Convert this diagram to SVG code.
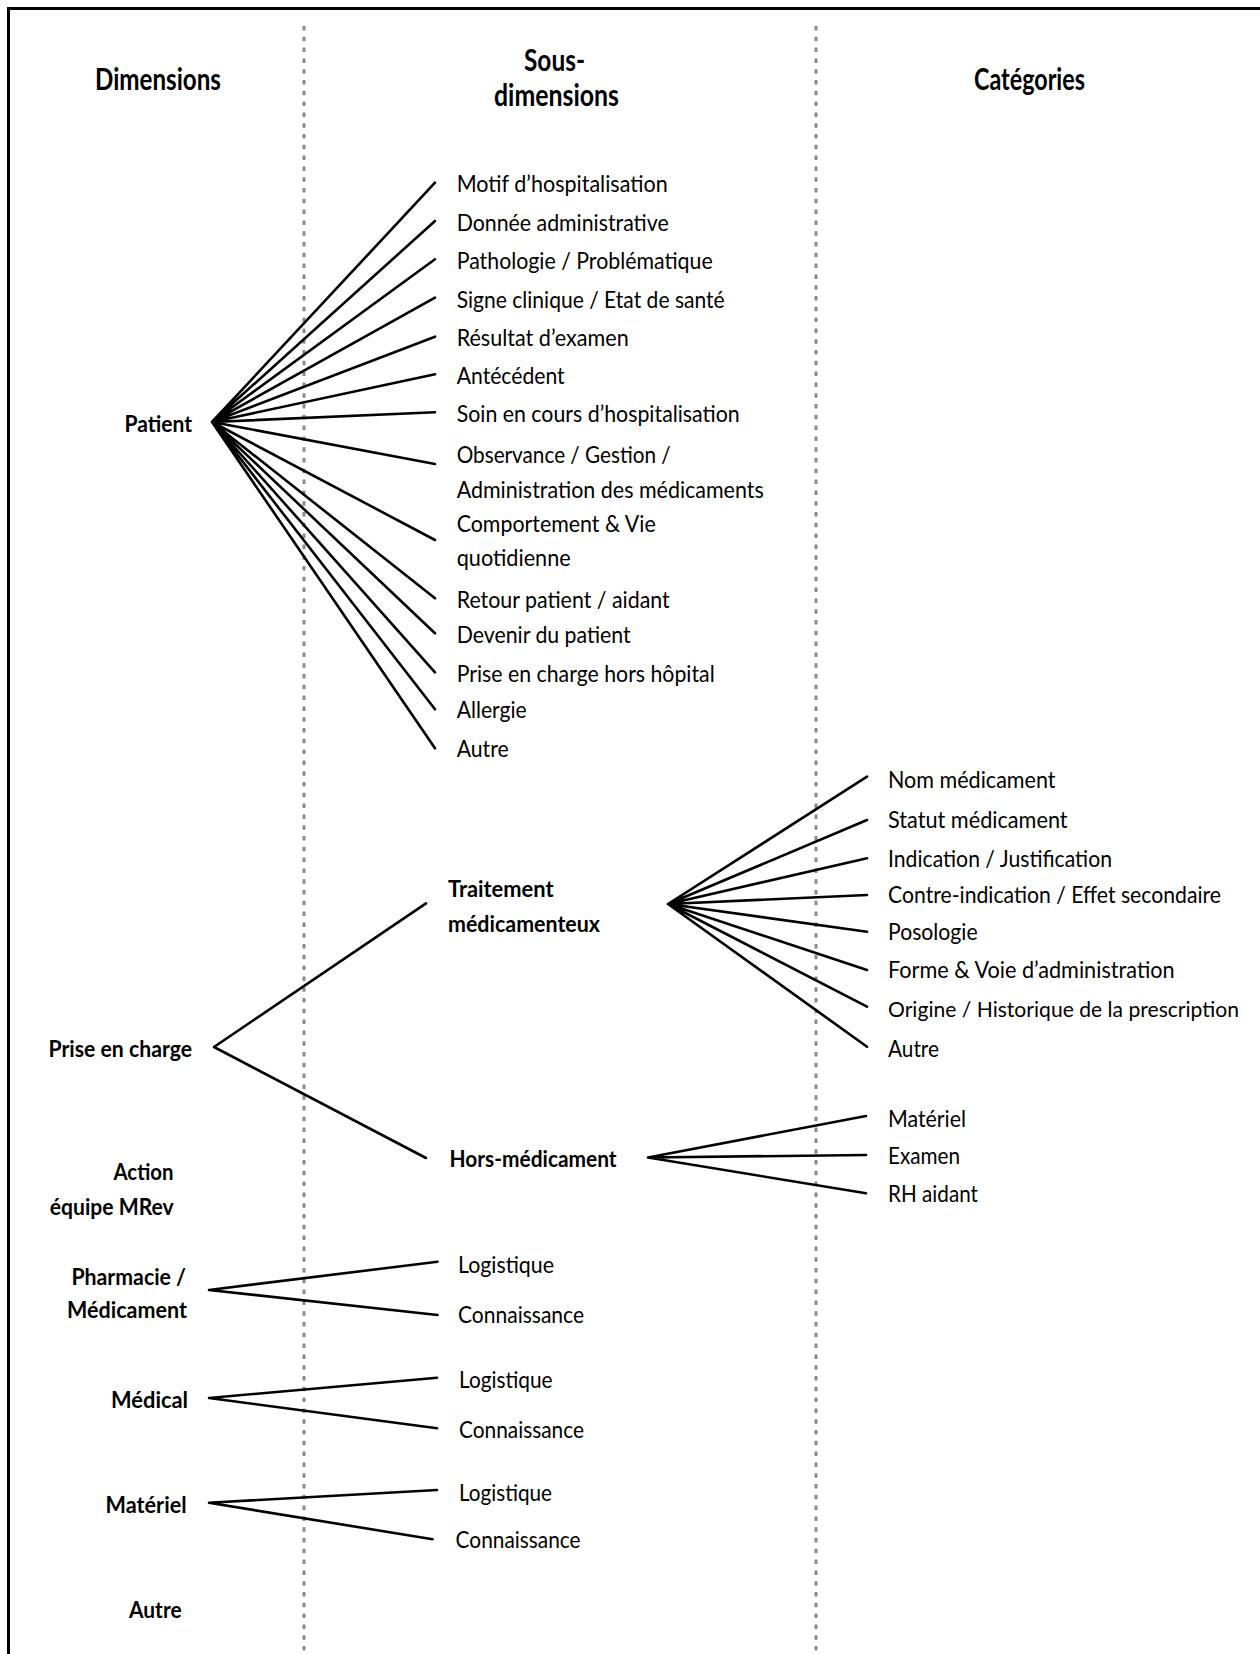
<svg xmlns="http://www.w3.org/2000/svg" width="1260" height="1654" viewBox="0 0 1260 1654">
<style>
text{font-family:Lato,"Liberation Sans",sans-serif;fill:#000}
.h{font-size:30px;font-weight:bold}
.b{font-size:23px;font-weight:bold}
.t{font-size:23px}
.n{font-size:21.5px}
.e{stroke:#000;stroke-width:2.6;fill:none;stroke-linecap:round}
.d{stroke:#8a8a8a;stroke-width:3;stroke-dasharray:4.5 6.3;fill:none}
</style>
<rect x="0" y="0" width="1260" height="1654" fill="#fff"/>
<rect x="8.5" y="8.5" width="1300" height="1700" fill="none" stroke="#000" stroke-width="3"/>
<g id="separators">
<line class="d" x1="304" y1="26" x2="304" y2="1654"/>
<line class="d" x1="816" y1="26" x2="816" y2="1654"/>
</g>
<g id="headers">
<text class="h" x="95" y="90" textLength="126" lengthAdjust="spacingAndGlyphs">Dimensions</text>
<text class="h" x="524" y="71" textLength="61" lengthAdjust="spacingAndGlyphs">Sous-</text>
<text class="h" x="494" y="106" textLength="125" lengthAdjust="spacingAndGlyphs">dimensions</text>
<text class="h" x="974" y="90" textLength="111" lengthAdjust="spacingAndGlyphs">Catégories</text>
</g>
<g id="connectors">
<path class="e" d="M212 422L435 182.7M212 422L435 221M212 422L435 259.3M212 422L435 297.7M212 422L435 336.7M212 422L435 374.3M212 422L435 412.3M212 422L435 464M212 422L435 540M212 422L435 598.3M212 422L435 633.3M212 422L435 672.3M212 422L435 709.3M212 422L435 748.3"/>
<path class="e" d="M214 1047L426 903.3M214 1047L426 1158"/>
<path class="e" d="M668 904L867 776.7M668 904L867 820M668 904L867 858.3M668 904L867 895M668 904L867 931.7M668 904L867 970M668 904L867 1006.7M668 904L867 1046.7"/>
<path class="e" d="M648 1157.5L866 1116M648 1157.5L866 1155M648 1157.5L866 1193.3"/>
<path class="e" d="M209 1290L437.5 1261.7M209 1290L437.5 1315"/>
<path class="e" d="M209 1398L437 1377.7M209 1398L437 1428.3"/>
<path class="e" d="M209 1502.7L437 1490M209 1502.7L432.6 1539.3"/>
</g>
<g id="dim-patient"><text class="b" x="124.5" y="431.7" textLength="67.5" lengthAdjust="spacingAndGlyphs">Patient</text></g>
<g id="dim-prise"><text class="b" x="48.5" y="1057" textLength="143.5" lengthAdjust="spacingAndGlyphs">Prise en charge</text></g>
<g id="dim-action">
<text class="b" x="113.5" y="1180" textLength="60" lengthAdjust="spacingAndGlyphs">Action</text>
<text class="b" x="49.7" y="1215" textLength="124" lengthAdjust="spacingAndGlyphs">équipe MRev</text>
</g>
<g id="dim-pharmacie">
<text class="b" x="71.4" y="1285" textLength="114.6" lengthAdjust="spacingAndGlyphs">Pharmacie /</text>
<text class="b" x="67" y="1318" textLength="120" lengthAdjust="spacingAndGlyphs">Médicament</text>
</g>
<g id="dim-medical"><text class="b" x="111" y="1408" textLength="77" lengthAdjust="spacingAndGlyphs">Médical</text></g>
<g id="dim-materiel"><text class="b" x="105.6" y="1512.7" textLength="81" lengthAdjust="spacingAndGlyphs">Matériel</text></g>
<g id="dim-autre"><text class="b" x="129" y="1617.7" textLength="52.6" lengthAdjust="spacingAndGlyphs">Autre</text></g>
<g id="patient-items">
<text class="t" x="456.7" y="192.3" textLength="211" lengthAdjust="spacingAndGlyphs">Motif d’hospitalisation</text>
<text class="t" x="456.7" y="230.7" textLength="212" lengthAdjust="spacingAndGlyphs">Donnée administrative</text>
<text class="t" x="456.7" y="269" textLength="256" lengthAdjust="spacingAndGlyphs">Pathologie / Problématique</text>
<text class="t" x="456.7" y="307.7" textLength="268" lengthAdjust="spacingAndGlyphs">Signe clinique / Etat de santé</text>
<text class="t" x="456.7" y="345.7" textLength="172" lengthAdjust="spacingAndGlyphs">Résultat d’examen</text>
<text class="t" x="456.7" y="384" textLength="108" lengthAdjust="spacingAndGlyphs">Antécédent</text>
<text class="t" x="456.7" y="422.3" textLength="283" lengthAdjust="spacingAndGlyphs">Soin en cours d’hospitalisation</text>
<text class="t" x="456.7" y="463.3" textLength="214" lengthAdjust="spacingAndGlyphs">Observance / Gestion /</text>
<text class="t" x="456.7" y="498.3" textLength="307" lengthAdjust="spacingAndGlyphs">Administration des médicaments</text>
<text class="t" x="456.7" y="531.7" textLength="199" lengthAdjust="spacingAndGlyphs">Comportement &amp; Vie</text>
<text class="t" x="456.7" y="566" textLength="114" lengthAdjust="spacingAndGlyphs">quotidienne</text>
<text class="t" x="456.7" y="608.3" textLength="213" lengthAdjust="spacingAndGlyphs">Retour patient / aidant</text>
<text class="t" x="456.7" y="643.3" textLength="174" lengthAdjust="spacingAndGlyphs">Devenir du patient</text>
<text class="t" x="456.7" y="681.7" textLength="258" lengthAdjust="spacingAndGlyphs">Prise en charge hors hôpital</text>
<text class="t" x="456.7" y="718.3" textLength="70" lengthAdjust="spacingAndGlyphs">Allergie</text>
<text class="t" x="456.7" y="757.3" textLength="52" lengthAdjust="spacingAndGlyphs">Autre</text>
</g>
<g id="sub-traitement">
<text class="b" x="448" y="896.7" textLength="105.6" lengthAdjust="spacingAndGlyphs">Traitement</text>
<text class="b" x="448" y="931.7" textLength="152" lengthAdjust="spacingAndGlyphs">médicamenteux</text>
</g>
<g id="sub-hors"><text class="b" x="449.6" y="1166.7" textLength="167" lengthAdjust="spacingAndGlyphs">Hors-médicament</text></g>
<g id="traitement-items">
<text class="t" x="888" y="788.3" textLength="167.5" lengthAdjust="spacingAndGlyphs">Nom médicament</text>
<text class="t" x="888" y="828.3" textLength="179.6" lengthAdjust="spacingAndGlyphs">Statut médicament</text>
<text class="t" x="888" y="866.7" textLength="224" lengthAdjust="spacingAndGlyphs">Indication / Justification</text>
<text class="t" x="888" y="903.3" textLength="333" lengthAdjust="spacingAndGlyphs">Contre-indication / Effet secondaire</text>
<text class="t" x="888" y="940" textLength="89.6" lengthAdjust="spacingAndGlyphs">Posologie</text>
<text class="t" x="888" y="978.3" textLength="286.6" lengthAdjust="spacingAndGlyphs">Forme &amp; Voie d’administration</text>
<text class="n" x="888" y="1016.7" textLength="351" lengthAdjust="spacingAndGlyphs">Origine / Historique de la prescription</text>
<text class="t" x="888" y="1056.7" textLength="51" lengthAdjust="spacingAndGlyphs">Autre</text>
</g>
<g id="hors-items">
<text class="t" x="888" y="1126.7" textLength="78" lengthAdjust="spacingAndGlyphs">Matériel</text>
<text class="t" x="888" y="1164" textLength="72" lengthAdjust="spacingAndGlyphs">Examen</text>
<text class="t" x="888" y="1202.3" textLength="90" lengthAdjust="spacingAndGlyphs">RH aidant</text>
</g>
<g id="pharmacie-items">
<text class="t" x="458" y="1273" textLength="96" lengthAdjust="spacingAndGlyphs">Logistique</text>
<text class="t" x="458" y="1323" textLength="126" lengthAdjust="spacingAndGlyphs">Connaissance</text>
</g>
<g id="medical-items">
<text class="t" x="459" y="1388" textLength="93.6" lengthAdjust="spacingAndGlyphs">Logistique</text>
<text class="t" x="459" y="1438" textLength="125" lengthAdjust="spacingAndGlyphs">Connaissance</text>
</g>
<g id="materiel-items">
<text class="t" x="459" y="1500.7" textLength="93" lengthAdjust="spacingAndGlyphs">Logistique</text>
<text class="t" x="455.6" y="1548.3" textLength="125" lengthAdjust="spacingAndGlyphs">Connaissance</text>
</g>
</svg>
